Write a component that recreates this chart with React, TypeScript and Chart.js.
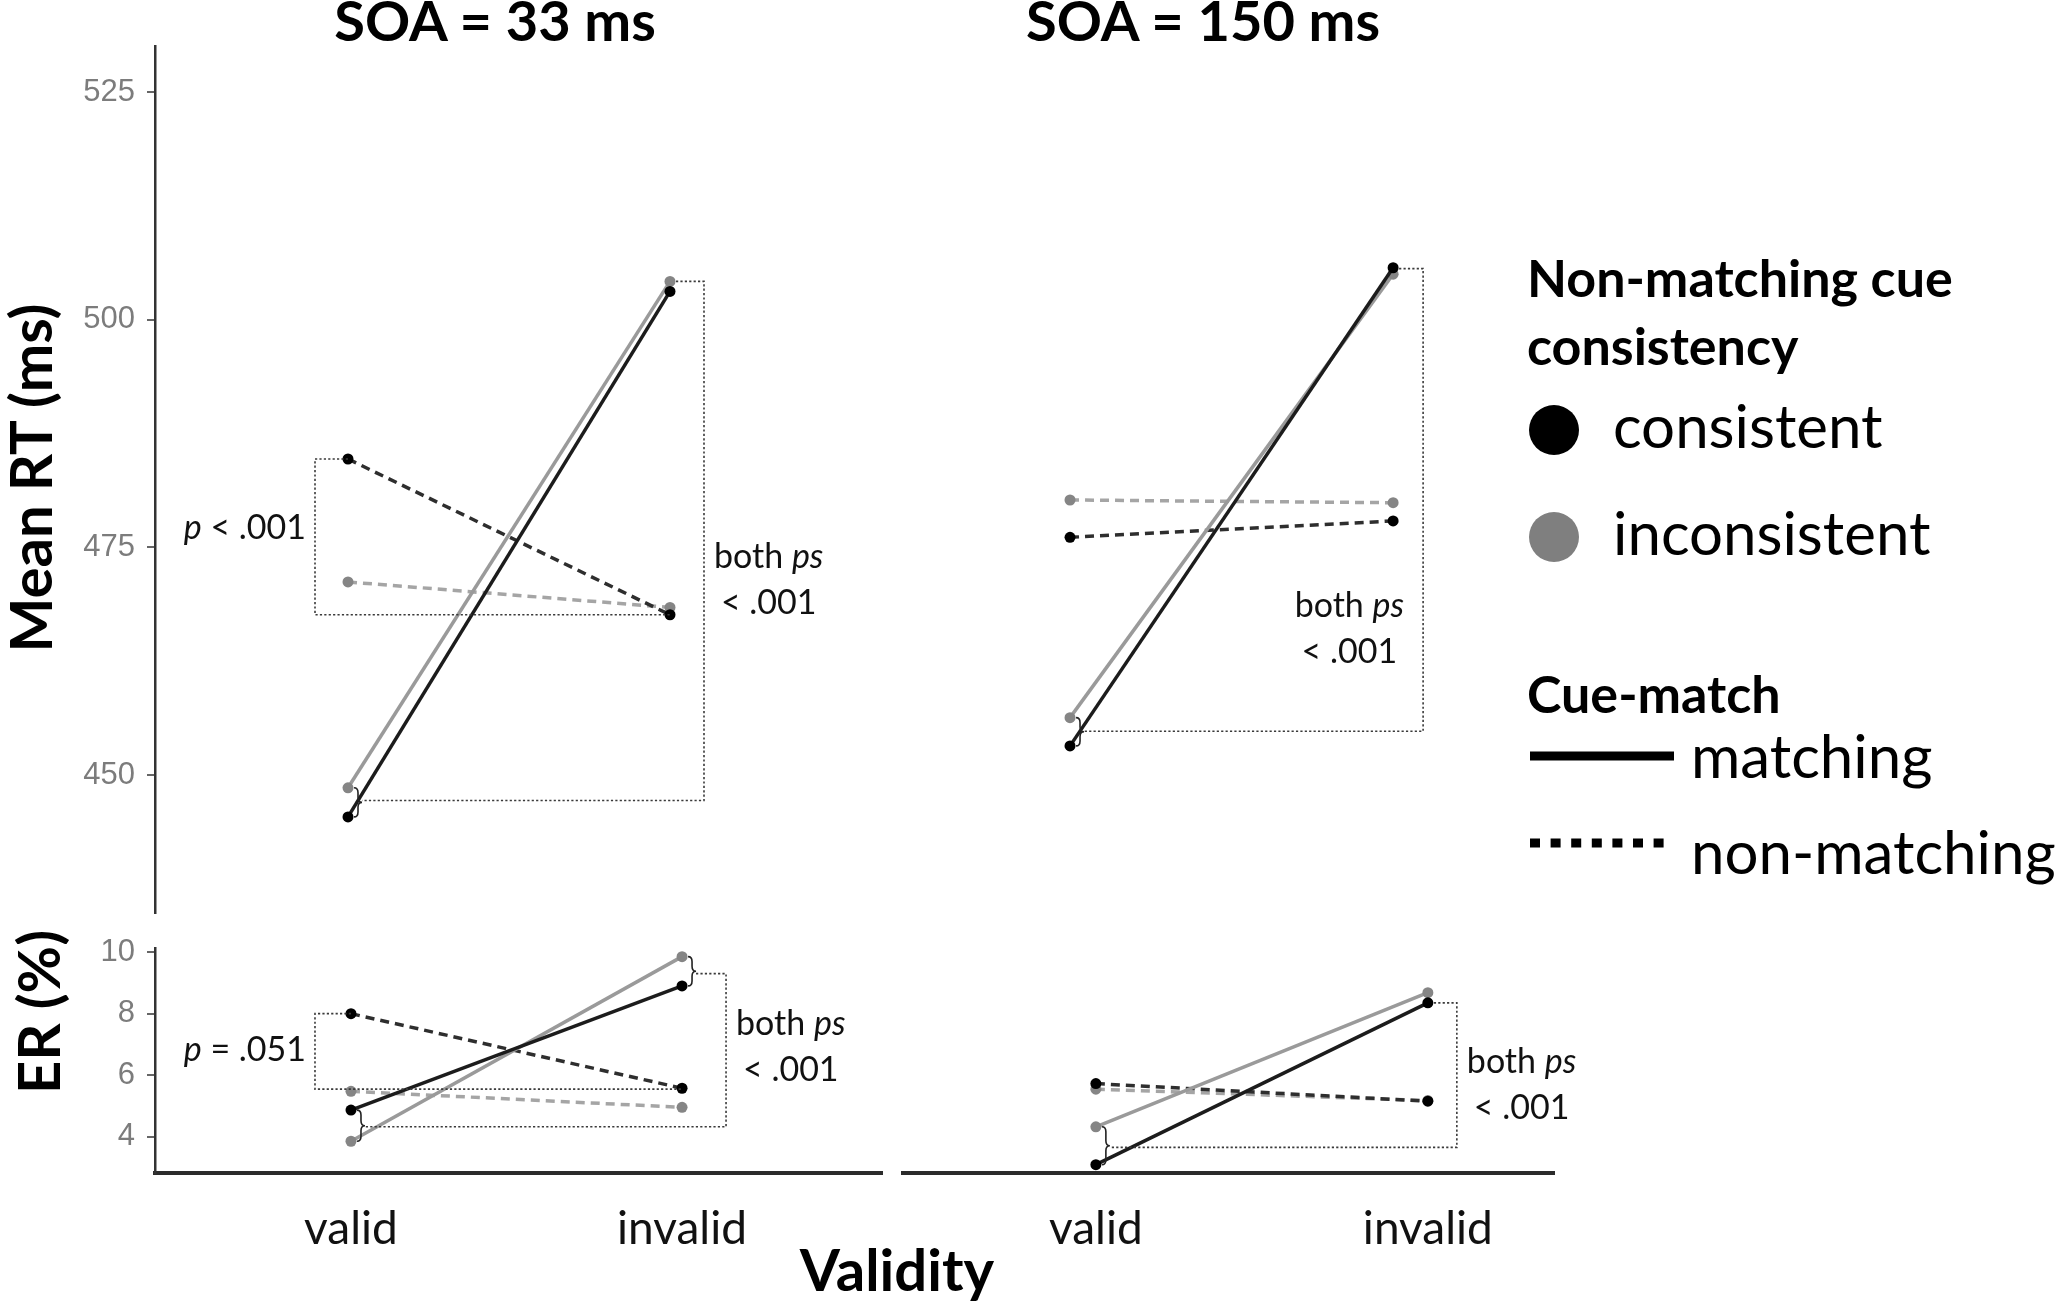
import { useEffect, useRef } from 'react'
import { Chart, registerables } from 'chart.js'
import type { ChartConfiguration, Plugin } from 'chart.js'

Chart.register(...registerables)

// x categories and tick values
const validity = ['valid', 'invalid']
const rtTicks = [450, 475, 500, 525]
const erTicks = [4, 6, 8, 10]

// Mean RT (ms), [valid, invalid]
const rt33ConsMatch = [445.4, 503.1]
const rt33IncMatch = [448.6, 504.2]
const rt33ConsNon = [484.7, 467.6]
const rt33IncNon = [471.2, 468.4]

const rt150ConsMatch = [453.2, 505.7]
const rt150IncMatch = [456.3, 505.0]
const rt150ConsNon = [476.1, 477.9]
const rt150IncNon = [480.2, 479.9]

// ER (%), [valid, invalid]
const er33ConsMatch = [4.87, 8.9]
const er33IncMatch = [3.86, 9.85]
const er33ConsNon = [8.0, 5.58]
const er33IncNon = [5.48, 4.96]

const er150ConsMatch = [3.1, 8.35]
const er150IncMatch = [4.33, 8.68]
const er150ConsNon = [5.73, 5.16]
const er150IncNon = [5.55, 5.18]

// significance brackets, [top, bottom]
const rt33LeftBracket = [484.7, 467.6]
const rt33RightBracket = [504.2, 447.2]
const rt150RightBracket = [505.6, 454.8]
const er33LeftBracket = [8.0, 5.55]
const er33RightBracket = [9.3, 4.33]
const er150RightBracket = [8.35, 3.66]

type Run = [string, boolean] // text, italic
type Bracket = {
  values: number[]
  dx: number
  textY: number
  lines: Run[][]
  inside?: boolean
}
type Notes = { left?: Bracket; right?: Bracket; braces: number[] }

const bothPs: Run[][] = [
  [['both ', false], ['ps', true]],
  [['< .001', false]],
]

const seriesStyles = [
  { label: 'consistent / matching', line: '#1c1c1c', point: '#000000', dash: [] as number[] },
  { label: 'inconsistent / matching', line: '#9a9a9a', point: '#858585', dash: [] as number[] },
  { label: 'consistent / non-matching', line: '#2e2e2e', point: '#000000', dash: [9, 6] },
  { label: 'inconsistent / non-matching', line: '#a5a5a5', point: '#858585', dash: [9, 6] },
]

const TEXT_FONT = 'Lato, "Noto Sans", sans-serif'

function notesPlugin(notes: Notes, series: number[][]): Plugin<'line'> {
  return {
    id: 'bracketNotes',
    afterDatasetsDraw(chart) {
      const { ctx } = chart
      const px = (v: number) => chart.scales.x.getPixelForValue(v)
      const py = (v: number) => chart.scales.y.getPixelForValue(v)
      const tip = 14

      ctx.save()
      // curly braces between the two matching points
      ctx.strokeStyle = '#222'
      ctx.lineWidth = 1.6
      ctx.setLineDash([])
      for (const i of notes.braces) {
        const a = py(series[0][i])
        const b = py(series[1][i])
        const y1 = Math.min(a, b)
        const y2 = Math.max(a, b)
        const m = (y1 + y2) / 2
        const x0 = px(i) + 6
        const w = 4
        const q = Math.min(5, (m - y1) / 2)
        ctx.beginPath()
        ctx.moveTo(x0, y1)
        ctx.quadraticCurveTo(x0 + w, y1, x0 + w, y1 + q)
        ctx.lineTo(x0 + w, m - q)
        ctx.quadraticCurveTo(x0 + w, m, x0 + 2 * w, m)
        ctx.quadraticCurveTo(x0 + w, m, x0 + w, m + q)
        ctx.lineTo(x0 + w, y2 - q)
        ctx.quadraticCurveTo(x0 + w, y2, x0, y2)
        ctx.stroke()
      }

      // dotted bracket lines
      ctx.strokeStyle = '#3a3a3a'
      ctx.lineWidth = 1.6
      ctx.setLineDash([2.2, 2.2])
      if (notes.left) {
        const xl = px(0) - notes.left.dx
        const yt = py(notes.left.values[0])
        const yb = py(notes.left.values[1])
        ctx.beginPath()
        ctx.moveTo(px(0), yt)
        ctx.lineTo(xl, yt)
        ctx.lineTo(xl, yb)
        ctx.lineTo(px(1), yb)
        ctx.stroke()
      }
      if (notes.right) {
        const xr = px(1) + notes.right.dx
        const yt = py(notes.right.values[0])
        const yb = py(notes.right.values[1])
        const startTop = px(1) + (notes.braces.includes(1) ? tip : 6)
        const startBottom = px(0) + (notes.braces.includes(0) ? tip : 6)
        ctx.beginPath()
        ctx.moveTo(startTop, yt)
        ctx.lineTo(xr, yt)
        ctx.lineTo(xr, yb)
        ctx.lineTo(startBottom, yb)
        ctx.stroke()
      }
      ctx.setLineDash([])

      // text
      const drawLines = (lines: Run[][], anchorX: number, align: 'left' | 'right', cy: number) => {
        const size = 34
        const lh = 46
        const font = (it: boolean) => `${it ? 'italic ' : ''}${size}px ${TEXT_FONT}`
        const widths = lines.map((line) =>
          line.reduce((w, [t, it]) => {
            ctx.font = font(it)
            return w + ctx.measureText(t).width
          }, 0)
        )
        const blockW = Math.max(...widths)
        const blockLeft = align === 'left' ? anchorX : anchorX - blockW
        ctx.fillStyle = '#111'
        ctx.textBaseline = 'middle'
        ctx.textAlign = 'left'
        lines.forEach((line, k) => {
          let x = blockLeft + (blockW - widths[k]) / 2
          const y = cy + (k - (lines.length - 1) / 2) * lh
          for (const [t, it] of line) {
            ctx.font = font(it)
            ctx.fillText(t, x, y)
            x += ctx.measureText(t).width
          }
        })
      }
      if (notes.left) {
        drawLines(notes.left.lines, px(0) - notes.left.dx - 9, 'right', py(notes.left.textY))
      }
      if (notes.right) {
        const xr = px(1) + notes.right.dx
        if (notes.right.inside) drawLines(notes.right.lines, xr - 19, 'right', py(notes.right.textY))
        else drawLines(notes.right.lines, xr + 10, 'left', py(notes.right.textY))
      }
      ctx.restore()
    },
  }
}

interface PanelProps {
  left: number
  top: number
  width: number
  height: number
  padding: { left: number; right: number; top: number; bottom: number }
  xRange: [number, number]
  yRange: [number, number]
  yTicks?: number[]
  showX: boolean
  series: number[][]
  notes: Notes
}

function Panel({ left, top, width, height, padding, xRange, yRange, yTicks, showX, series, notes }: PanelProps) {
  const canvasRef = useRef<HTMLCanvasElement>(null)

  useEffect(() => {
    if (!canvasRef.current) return

    const yScale = yTicks
      ? {
          type: 'linear' as const,
          display: true,
          min: yRange[0],
          max: yRange[1],
          afterBuildTicks: (axis: any) => {
            axis.ticks = yTicks.map((v) => ({ value: v }))
          },
          afterFit: (axis: any) => {
            axis.width = 155 - padding.left
            axis.paddingTop = 0
            axis.paddingBottom = 0
          },
          border: { display: true, color: '#333', width: 2.5 },
          grid: { display: true, drawOnChartArea: false, drawTicks: true, tickLength: 8, color: '#666', lineWidth: 2 },
          ticks: { color: '#7c7c7c', font: { family: '"Liberation Sans", Arial, sans-serif', size: 31 }, padding: 12 },
        }
      : { type: 'linear' as const, display: false, min: yRange[0], max: yRange[1] }

    const xScale = showX
      ? {
          type: 'linear' as const,
          display: true,
          min: xRange[0],
          max: xRange[1],
          afterBuildTicks: (axis: any) => {
            axis.ticks = validity.map((_, i) => ({ value: i }))
          },
          afterFit: (axis: any) => {
            axis.height = height - 258 - padding.bottom
            axis.paddingLeft = 0
            axis.paddingRight = 0
          },
          border: { display: true, color: '#2b2b2b', width: 4 },
          grid: { display: true, drawOnChartArea: false, drawTicks: false },
          ticks: {
            callback: (_v: any, i: number) => validity[i],
            color: '#111',
            font: { family: TEXT_FONT, size: 46, lineHeight: 1.2 },
            padding: 29,
            maxRotation: 0,
            autoSkip: false,
          },
        }
      : { type: 'linear' as const, display: false, min: xRange[0], max: xRange[1] }

    const config: ChartConfiguration<'line'> = {
      type: 'line',
      data: {
        datasets: series.map((values, k) => ({
          label: seriesStyles[k].label,
          data: values.map((v, i) => ({ x: i, y: v })),
          borderColor: seriesStyles[k].line,
          borderWidth: 3.5,
          borderDash: seriesStyles[k].dash,
          pointRadius: 5.5,
          pointBorderWidth: 0,
          pointBackgroundColor: seriesStyles[k].point,
          pointBorderColor: seriesStyles[k].point,
          tension: 0,
          clip: false as any,
        })),
      },
      options: {
        responsive: false,
        animation: false,
        layout: { padding, autoPadding: false },
        plugins: { legend: { display: false }, tooltip: { enabled: false }, title: { display: false } },
        scales: { x: xScale as any, y: yScale as any },
      },
      plugins: [notesPlugin(notes, series)],
    }

    const chart = new Chart(canvasRef.current, config)
    return () => chart.destroy()
  }, [])

  return (
    <div style={{ position: 'absolute', left, top, width, height }}>
      <canvas ref={canvasRef} width={width} height={height} />
    </div>
  )
}

export default function App() {
  const rtRange: [number, number] = [434.85, 530.05]
  const erRange: [number, number] = [2.83, 10.13]
  const bold = { fontFamily: TEXT_FONT, fontWeight: 700 }

  return (
    <div style={{ position: 'fixed', left: 0, top: 0, width: 2056, height: 1308, background: '#fff', overflow: 'hidden' }}>
      <Panel
        left={0}
        top={0}
        width={890}
        height={915}
        padding={{ left: 0, right: 8, top: 46, bottom: 2 }}
        xRange={[-0.5994, 1.6584]}
        yRange={rtRange}
        yTicks={rtTicks}
        showX={false}
        series={[rt33ConsMatch, rt33IncMatch, rt33ConsNon, rt33IncNon]}
        notes={{
          braces: [0],
          left: { values: rt33LeftBracket, dx: 33, textY: 477.1, lines: [[['p', true], [' < .001', false]]] },
          right: { values: rt33RightBracket, dx: 34, textY: 471.4, lines: bothPs },
        }}
      />
      <Panel
        left={890}
        top={0}
        width={670}
        height={915}
        padding={{ left: 13, right: 6, top: 46, bottom: 2 }}
        xRange={[-0.517, 1.498]}
        yRange={rtRange}
        showX={false}
        series={[rt150ConsMatch, rt150IncMatch, rt150ConsNon, rt150IncNon]}
        notes={{
          braces: [0],
          right: { values: rt150RightBracket, dx: 30, textY: 466.0, lines: bothPs, inside: true },
        }}
      />
      <Panel
        left={0}
        top={915}
        width={890}
        height={393}
        padding={{ left: 0, right: 8, top: 33, bottom: 0 }}
        xRange={[-0.592, 1.604]}
        yRange={erRange}
        yTicks={erTicks}
        showX={true}
        series={[er33ConsMatch, er33IncMatch, er33ConsNon, er33IncNon]}
        notes={{
          braces: [0, 1],
          left: { values: er33LeftBracket, dx: 36, textY: 6.82, lines: [[['p', true], [' = .051', false]]] },
          right: { values: er33RightBracket, dx: 44, textY: 6.92, lines: bothPs },
        }}
      />
      <Panel
        left={890}
        top={915}
        width={720}
        height={393}
        padding={{ left: 13, right: 56, top: 33, bottom: 0 }}
        xRange={[-0.581, 1.38]}
        yRange={erRange}
        showX={true}
        series={[er150ConsMatch, er150IncMatch, er150ConsNon, er150IncNon]}
        notes={{
          braces: [0],
          right: { values: er150RightBracket, dx: 29, textY: 5.69, lines: bothPs },
        }}
      />

      <svg width={2056} height={1308} style={{ position: 'absolute', left: 0, top: 0, pointerEvents: 'none' }}>
        <text x={495} y={41} textAnchor="middle" fontSize={56} {...bold}>SOA = 33 ms</text>
        <text x={1203} y={41} textAnchor="middle" fontSize={56} {...bold}>SOA = 150 ms</text>

        <text transform="translate(29,478) rotate(-90)" textAnchor="middle" dominantBaseline="central" fontSize={58} {...bold}>
          Mean RT (ms)
        </text>
        <text transform="translate(37,1012) rotate(-90)" textAnchor="middle" dominantBaseline="central" fontSize={58} {...bold}>
          ER (%)
        </text>
        <text x={897} y={1291} textAnchor="middle" fontSize={58} {...bold}>Validity</text>

        <text x={1527} y={297} fontSize={52} {...bold}>Non-matching cue</text>
        <text x={1527} y={365} fontSize={52} {...bold}>consistency</text>
        <circle cx={1554} cy={430} r={25} fill="#000" />
        <text x={1613} y={448} fontSize={60} fontFamily={TEXT_FONT}>consistent</text>
        <circle cx={1554} cy={537} r={25} fill="#7f7f7f" />
        <text x={1613} y={555} fontSize={60} fontFamily={TEXT_FONT}>inconsistent</text>

        <text x={1527} y={713} fontSize={52} {...bold}>Cue-match</text>
        <line x1={1530} y1={756} x2={1674} y2={756} stroke="#000" strokeWidth={9} />
        <text x={1691} y={778} fontSize={60} fontFamily={TEXT_FONT}>matching</text>
        <line x1={1530} y1={843} x2={1674} y2={843} stroke="#000" strokeWidth={9} strokeDasharray="10 10.6" />
        <text x={1691} y={874} fontSize={60} fontFamily={TEXT_FONT}>non-matching</text>
      </svg>
    </div>
  )
}
